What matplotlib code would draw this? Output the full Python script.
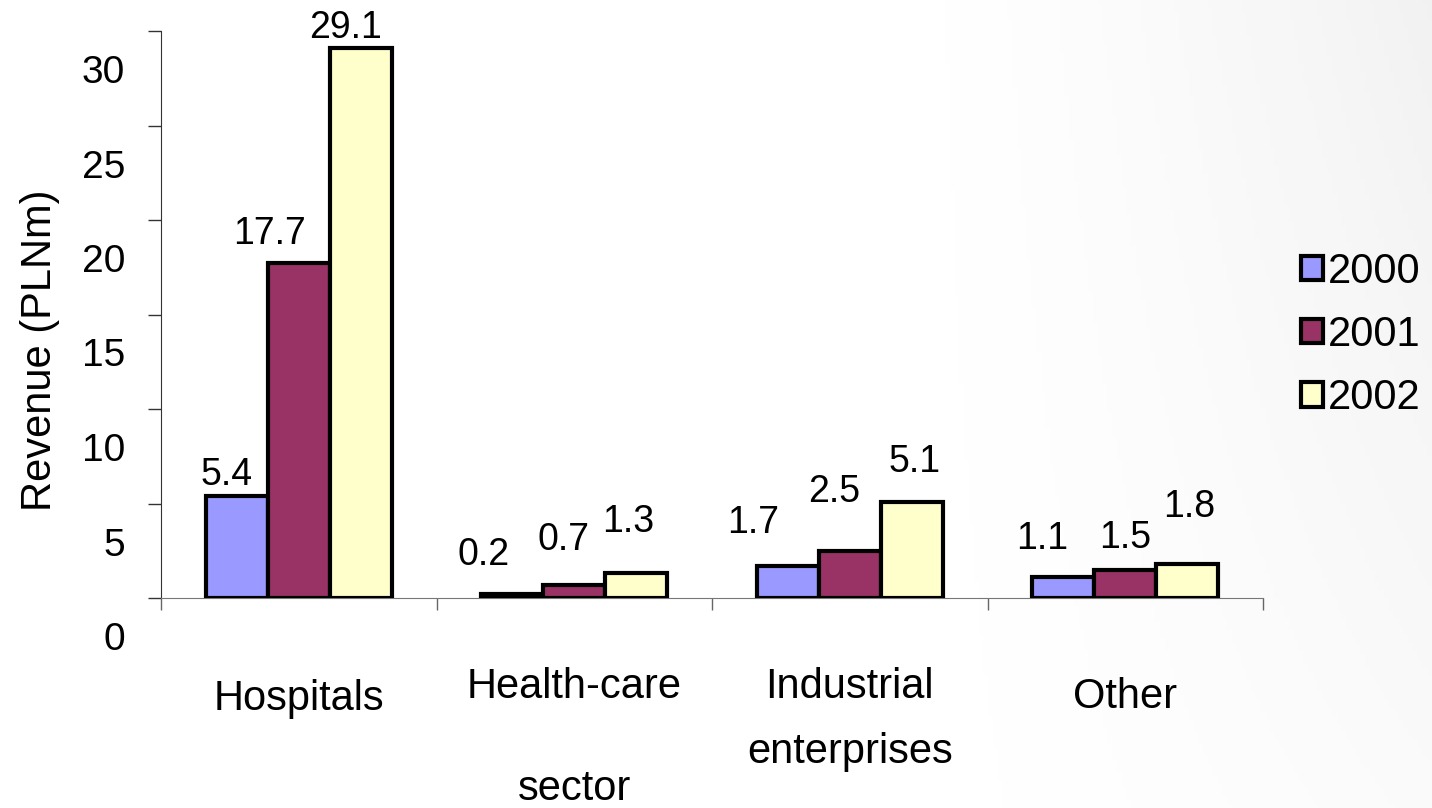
import numpy as np
import matplotlib
matplotlib.use("Agg")
import matplotlib.pyplot as plt
from matplotlib.transforms import ScaledTranslation

plt.rcParams['font.family'] = ['Liberation Sans', 'DejaVu Sans']

categories = ["Hospitals", "Health-care\nsector", "Industrial\nenterprises", "Other"]
years = ["2000", "2001", "2002"]
rev_2000 = [5.4, 0.2, 1.7, 1.1]
rev_2001 = [17.7, 0.7, 2.5, 1.5]
rev_2002 = [29.1, 1.3, 5.1, 1.8]
series = [rev_2000, rev_2001, rev_2002]
colors = ['#9999FF', '#993366', '#FFFFCC']

# label nudges in pixels (Excel placed them a bit irregularly)
label_dx = [[-10, -29, -35, -21], [-29, -11, -16, 0], [-15, -8, 3, 2]]
label_dy = [[21, 39, 43, 38], [29, 45, 59, 32], [20, 51, 40, 57]]

fig = plt.figure(figsize=(14.32, 8.08), dpi=100)

# faint grey wash on the right, like the slide background
bg = fig.add_axes([0, 0, 1, 1], zorder=-10)
gx, gy = np.meshgrid(np.linspace(0, 1, 300), np.linspace(0, 1, 200))
wash = np.clip((gx - 0.62) / 0.38, 0, 1) ** 1.5 * (0.35 + 0.65 * gy)
bg.imshow(wash, cmap='Greys', vmin=0, vmax=9, extent=[0, 1, 0, 1], origin='lower', aspect='auto')
bg.axis('off')

ax = fig.add_axes([161 / 1432, 210 / 808, 1102 / 1432, 567 / 808])
ax.patch.set_alpha(0)

x = np.arange(len(categories))
w = 0.225
for i, (vals, col) in enumerate(zip(series, colors)):
    bars = ax.bar(x + (i - 1) * w, vals, w, color=col, edgecolor='black',
                  linewidth=3, label=years[i], zorder=3)
    for j, b in enumerate(bars):
        ax.annotate(f"{vals[j]:.1f}", (b.get_x() + b.get_width() / 2, b.get_height()),
                    xytext=(label_dx[i][j], label_dy[i][j]), textcoords='offset pixels',
                    ha='center', va='center', fontsize=27)

ax.set_xlim(-0.5, 3.5)
ax.set_ylim(0, 30)
ax.set_yticks(range(0, 31, 5))
ax.tick_params(axis='y', length=9.4, width=1, pad=16.5, labelsize=28, color='#333333')
for lab in ax.get_yticklabels():
    lab.set_transform(lab.get_transform() + ScaledTranslation(0, -0.38, fig.dpi_scale_trans))

ax.set_xticks(np.arange(-0.5, 4, 1))
ax.set_xticklabels([])
ax.tick_params(axis='x', which='major', length=8.6, width=1, color='#666666')
ax.set_xticks(x, minor=True)
ax.set_xticklabels(categories, minor=True, fontsize=30)
ax.tick_params(axis='x', which='minor', length=0, pad=50)
cat_shift = [-0.12, 0.0, 0.0, -0.10]
cat_spacing = [1.2, 3.0, 1.8, 1.2]
for lab, s, ls in zip(ax.get_xticklabels(minor=True), cat_shift, cat_spacing):
    lab.set_linespacing(ls)
    lab.set_transform(lab.get_transform() + ScaledTranslation(0, s, fig.dpi_scale_trans))

ax.spines['top'].set_visible(False)
ax.spines['right'].set_visible(False)
ax.spines['left'].set_color('#333333')
ax.spines['bottom'].set_color('#777777')
ax.set_ylabel("Revenue (PLNm)", fontsize=30)
ax.yaxis.set_label_coords(-0.092, 0.437)

leg = fig.legend(loc='center left', bbox_to_anchor=(1301 / 1432, 1 - 335 / 808), frameon=False,
                 fontsize=30, handlelength=0.52, handleheight=0.52, handletextpad=0.12,
                 labelspacing=0.56, borderpad=0, borderaxespad=0)
for h in leg.legend_handles:
    h.set_linewidth(3)

plt.savefig("out.png", dpi=100)
